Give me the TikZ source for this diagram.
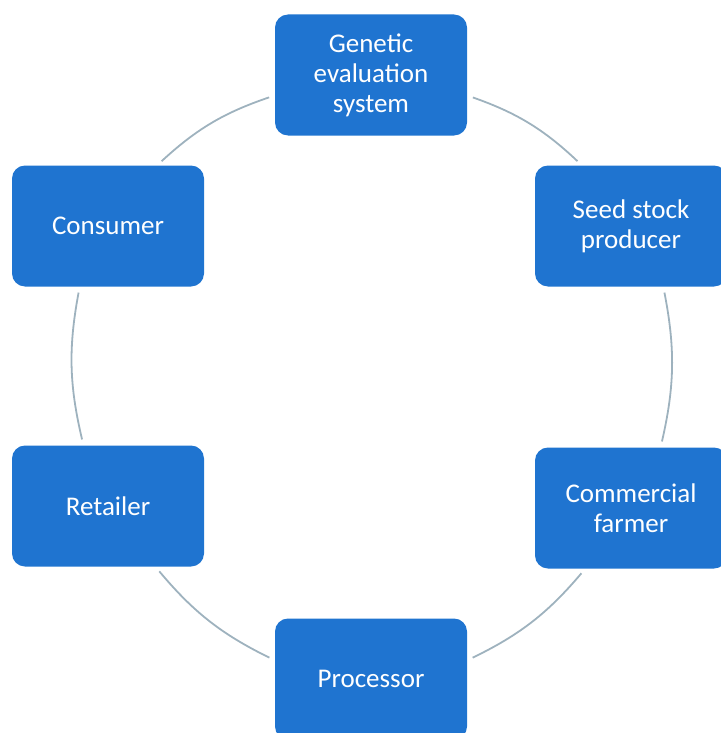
\documentclass[tikz,border=0pt]{standalone}
\usepackage{fontspec}
\setmainfont{Carlito}
\definecolor{boxblue}{RGB}{31,116,208}
\definecolor{ringgray}{RGB}{158,178,190}

\begin{document}
\begin{tikzpicture}[x=1pt,y=-1pt,
        stage/.style={fill=boxblue,rounded corners=13pt,minimum width=192pt,minimum height=121pt,inner sep=0pt,text=white,align=center,font=\fontsize{27}{30}\selectfont},
        ring/.style={draw=ringgray,line width=1.8pt,bend left=12,shorten <=6pt,shorten >=6pt}]
        \useasboundingbox (0,0) rectangle (720,733);

        \coordinate (p1) at (371,75);
        \coordinate (p2) at (631,226);
        \coordinate (p3) at (631,508);
        \coordinate (p4) at (371,679);
        \coordinate (p5) at (108,506);
        \coordinate (p6) at (108,226);

        \node[stage] (gen) at (p1) {Genetic\\evaluation\\system};
        \node[stage] (seed) at (p2) {Seed stock\\producer};
        \node[stage] (comm) at (p3) {Commercial\\farmer};
        \node[stage] (proc) at (p4) {Processor};
        \node[stage] (ret) at (p5) {Retailer};
        \node[stage] (cons) at (p6) {Consumer};

        \draw[ring] (gen.-12) to (seed.129);
        \draw[ring] (seed.-62) to (comm.64);
        \draw[ring] (comm.-127) to (proc.11);
        \draw[ring] (proc.169) to (ret.-52);
        \draw[ring] (ret.112) to (cons.-115);
        \draw[ring] (cons.51) to (gen.192);
\end{tikzpicture}
\end{document}
